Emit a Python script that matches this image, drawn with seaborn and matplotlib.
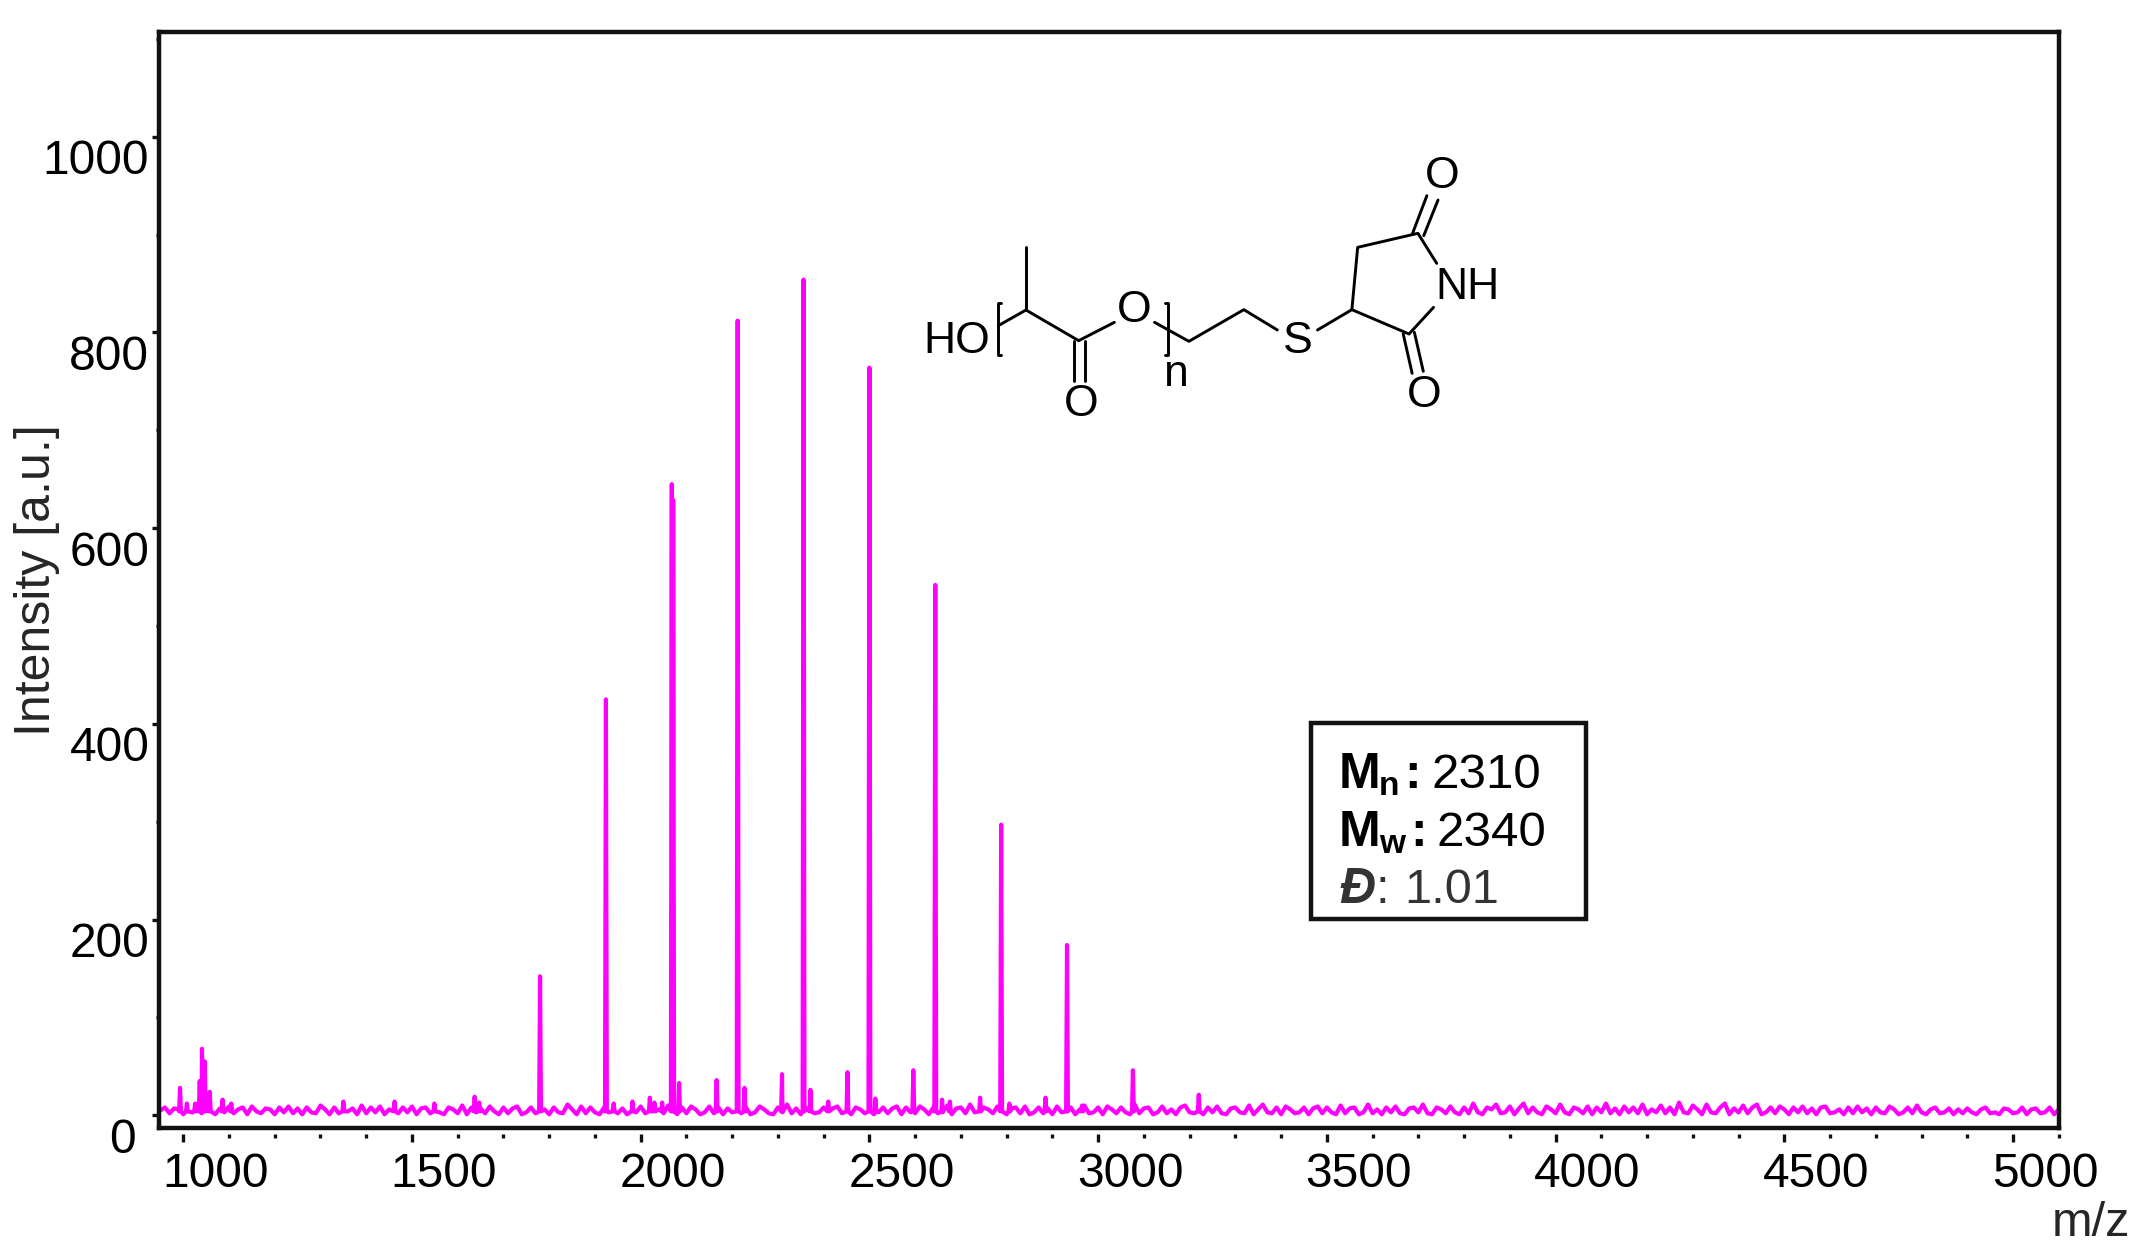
import numpy as np
import pandas as pd
import matplotlib.pyplot as plt
import seaborn as sns
from matplotlib.lines import Line2D
from matplotlib.patches import Rectangle
from matplotlib.ticker import MultipleLocator
from matplotlib.transforms import ScaledTranslation

# noise floor, one value per 10 m/z starting at 950
baseline = [
    5, 8, 2, 7, 6, 1, 8, 3, 9, 2, 8, 6, 1, 7, 3, 9, 2, 6, 8, 1, 9, 4, 2, 7,
    6, 1, 8, 3, 9, 2, 7, 1, 8, 3, 2, 10, 6, 1, 8, 2, 9, 4, 7, 1, 10, 2, 8, 3,
    9, 1, 6, 11, 2, 8, 3, 9, 1, 7, 8, 2, 9, 3, 1, 8, 6, 2, 10, 1, 8, 3, 7, 2,
    9, 4, 1, 8, 2, 7, 9, 1, 3, 8, 2, 10, 6, 1, 8, 3, 2, 11, 6, 1, 9, 2, 8, 3,
    1, 8, 3, 9, 2, 7, 1, 8, 3, 9, 2, 1, 8, 6, 2, 10, 3, 1, 8, 2, 9, 6, 1, 3,
    9, 2, 8, 1, 7, 3, 10, 2, 8, 1, 3, 9, 6, 2, 1, 8, 3, 11, 2, 7, 1, 8, 9, 2,
    3, 8, 1, 7, 9, 2, 3, 1, 8, 6, 2, 10, 1, 3, 8, 2, 7, 9, 1, 8, 3, 2, 9, 6,
    1, 8, 2, 3, 10, 1, 7, 8, 2, 11, 3, 1, 8, 6, 2, 9, 3, 1, 7, 8, 2, 9, 1, 3,
    8, 2, 7, 1, 9, 3, 2, 8, 1, 6, 10, 2, 3, 8, 1, 9, 6, 2, 8, 3, 1, 11, 2, 7,
    8, 1, 3, 9, 2, 6, 1, 8, 10, 3, 2, 7, 1, 8, 3, 9, 2, 1, 7, 8, 3, 2, 10, 1,
    6, 11, 3, 2, 8, 1, 9, 6, 2, 3, 8, 1, 7, 9, 2, 8, 3, 1, 10, 2, 7, 8, 1, 3,
    11, 2, 6, 1, 8, 3, 9, 2, 1, 7, 8, 3, 11, 2, 1, 8, 6, 2, 9, 3, 1, 8, 2, 12,
    3, 1, 8, 6, 11, 2, 3, 9, 1, 7, 12, 2, 8, 3, 1, 9, 6, 2, 11, 3, 1, 8, 6, 2,
    9, 1, 8, 3, 12, 2, 7, 1, 9, 3, 8, 2, 11, 1, 6, 3, 10, 2, 8, 1, 13, 3, 2, 10,
    6, 1, 11, 3, 2, 8, 12, 1, 7, 3, 10, 2, 8, 11, 1, 3, 8, 2, 9, 6, 1, 8, 3, 9,
    2, 7, 1, 8, 9, 2, 3, 6, 1, 8, 2, 9, 3, 7, 1, 8, 3, 2, 9, 6, 1, 3, 8, 2,
    10, 3, 1, 6, 8, 2, 3, 7, 1, 6, 2, 7, 3, 1, 6, 8, 2, 3, 1, 7, 6, 2, 3, 8,
    1, 6, 7, 2, 3, 8, 1, 6, 2, 7, 3, 1,
]

# main series, about 144 m/z apart
peak_mz = [1780, 1924, 2068, 2071, 2212, 2356, 2500, 2644, 2788, 2932, 3076, 3220]
peak_heights = [142, 425, 645, 629, 812, 854, 764, 542, 297, 174, 46, 21]

# small side peaks and bumps above the noise
side_mz = [993, 1008, 1026, 1036, 1041, 1047, 1058, 1086, 1105, 1350, 1462, 1549,
           1637, 1647, 1941, 1982, 2020, 2030, 2047, 2084, 2166, 2227, 2309, 2371,
           2410, 2452, 2513, 2596, 2659, 2676, 2742, 2806, 2885, 2965]
side_heights = [28, 12, 12, 35, 68, 55, 24, 16, 12, 14, 14, 12,
                19, 13, 12, 14, 18, 13, 13, 33, 36, 28, 42, 26,
                14, 44, 17, 46, 16, 14, 18, 12, 18, 10]

y_ticks = [0, 200, 400, 600, 800, 1000]
x_ticks = [1000, 1500, 2000, 2500, 3000, 3500, 4000, 4500, 5000]

W, H = 2148, 1260
FONT = 'Liberation Sans'
AX_LEFT, AX_RIGHT, AX_TOP, AX_BOTTOM = 159, 2059, 32, 1128


def px(x, y):
    return x / W, 1 - y / H


sns.set_theme(style='ticks')
plt.rcParams['font.family'] = [FONT, 'DejaVu Sans']

spike_mz = np.array(peak_mz + side_mz)
spike_y = np.array(peak_heights + side_heights)
floor = pd.DataFrame({'mz': 950 + 10 * np.arange(len(baseline)), 'intensity': baseline})
spikes = pd.DataFrame({'mz': spike_mz, 'intensity': spike_y})
# narrow foot on both sides of a spike so it does not lean on the 10 m/z grid
feet = pd.DataFrame({'mz': np.concatenate([spike_mz - 2, spike_mz + 2]), 'intensity': 4})
spectrum = pd.concat([spikes, feet, floor]).drop_duplicates('mz', keep='first').sort_values('mz')

fig = plt.figure(figsize=(W / 100, H / 100), dpi=100)
ax = fig.add_axes([AX_LEFT / W, 1 - AX_BOTTOM / H, (AX_RIGHT - AX_LEFT) / W, (AX_BOTTOM - AX_TOP) / H])

sns.lineplot(data=spectrum, x='mz', y='intensity', estimator=None, color='#ff00ff',
             lw=3.0, ax=ax, solid_joinstyle='round')

ax.set_xlim(947, 5100.5)
ax.set_ylim(-13, 1107)
ax.set_xticks(x_ticks)
ax.set_yticks(y_ticks)
ax.xaxis.set_minor_locator(MultipleLocator(100))
ax.yaxis.set_minor_locator(MultipleLocator(100))

for side in ['left', 'right', 'top']:
    ax.spines[side].set_linewidth(3.2)
    ax.spines[side].set_color('#111111')
# x ticks float a little below the frame, so the real spine only carries them
ax.spines['bottom'].set_position(('outward', 4))
ax.spines['bottom'].set_visible(False)
ax.plot([0, 1], [0, 0], transform=ax.transAxes, color='#111111', lw=3.2, clip_on=False,
        solid_capstyle='projecting')

ax.tick_params(axis='x', which='major', length=6, width=2.4, color='#111111',
               labelsize=34.5, pad=7.5, labelcolor='black')
ax.tick_params(axis='x', which='minor', length=3, width=2.4, color='#111111')
ax.tick_params(axis='y', which='major', length=5, width=2.4, color='#111111',
               labelsize=34.5, pad=2, labelcolor='black')
ax.tick_params(axis='y', which='minor', length=2.5, width=2.4, color='#111111')

# tick labels sit off their ticks in the original
for label in ax.get_xticklabels():
    label.set_transform(label.get_transform() + ScaledTranslation(0.32, 0, fig.dpi_scale_trans))
for label, tick in zip(ax.get_yticklabels(), y_ticks):
    dx = -0.14 if tick == 0 else 0
    label.set_transform(label.get_transform() + ScaledTranslation(dx, -0.20, fig.dpi_scale_trans))

ax.set_xlabel('m/z', fontsize=35)
ax.set_ylabel('Intensity [a.u.]', fontsize=36)
ax.xaxis.set_label_coords(1.0168, -0.067)
ax.yaxis.set_label_coords(-0.052, 0.5)


# molecule, traced in zoom coordinates of the reference
def zpt(zx, zy):
    return px(880 + zx / 2.24, 124 + zy / 3)


bonds = [
    [(327, 370), (327, 558)],
    [(265, 605), (327, 558), (445, 650), (525, 595)],
    [(435, 650), (435, 770)],
    [(460, 650), (460, 770)],
    [(615, 595), (692, 652), (815, 557), (890, 618)],
    [(980, 618), (1057, 557), (1185, 630), (1240, 550)],
    [(1057, 557), (1070, 370), (1205, 328), (1247, 418)],
    [(1193, 328), (1225, 215)],
    [(1218, 335), (1250, 228)],
    [(1172, 630), (1192, 748)],
    [(1197, 625), (1217, 742)],
    [(272, 537), (264, 537), (264, 693), (272, 693)],
    [(638, 537), (646, 537), (646, 693), (638, 693)],
]
for bond in bonds:
    pts = [zpt(*p) for p in bond]
    fig.add_artist(Line2D([p[0] for p in pts], [p[1] for p in pts], color='black', lw=2.1))

atoms = [('HO', 172, 652), ('O', 570, 558), ('O', 450, 840), ('S', 935, 652),
         ('NH', 1315, 490), ('O', 1260, 158), ('O', 1218, 815), ('n', 663, 750)]
for name, zx, zy in atoms:
    fx, fy = zpt(zx, zy)
    fig.text(fx, fy, name, fontsize=32, ha='center', va='center', color='black')

# Mn / Mw / dispersity box
fig.add_artist(Rectangle(px(1311, 919), 275 / W, 196 / H, transform=fig.transFigure,
                         fill=False, ec='#111111', lw=3.2))
box_text = [
    ('M', 1339, 788, 36, 'bold', 'normal', 'black'),
    ('n', 1379, 795, 24, 'bold', 'normal', 'black'),
    (':', 1404, 788, 36, 'bold', 'normal', 'black'),
    ('2310', 1431, 788, 35.5, 'normal', 'normal', 'black'),
    ('M', 1339, 846, 36, 'bold', 'normal', 'black'),
    ('w', 1379, 853, 24, 'bold', 'normal', 'black'),
    (':', 1410, 846, 36, 'bold', 'normal', 'black'),
    ('2340', 1437, 846, 35.5, 'normal', 'normal', 'black'),
    ('\u00d0', 1339, 903, 36, 'bold', 'italic', '#333333'),
    (':', 1376, 903, 35, 'normal', 'normal', '#333333'),
    ('1.01', 1404, 903, 35, 'normal', 'normal', '#333333'),
]
for s, x, y, size, weight, style, colour in box_text:
    fx, fy = px(x, y)
    fig.text(fx, fy, s, fontsize=size, fontweight=weight, fontstyle=style, color=colour,
             ha='left', va='baseline')

fig.savefig('out.png', dpi=100)
